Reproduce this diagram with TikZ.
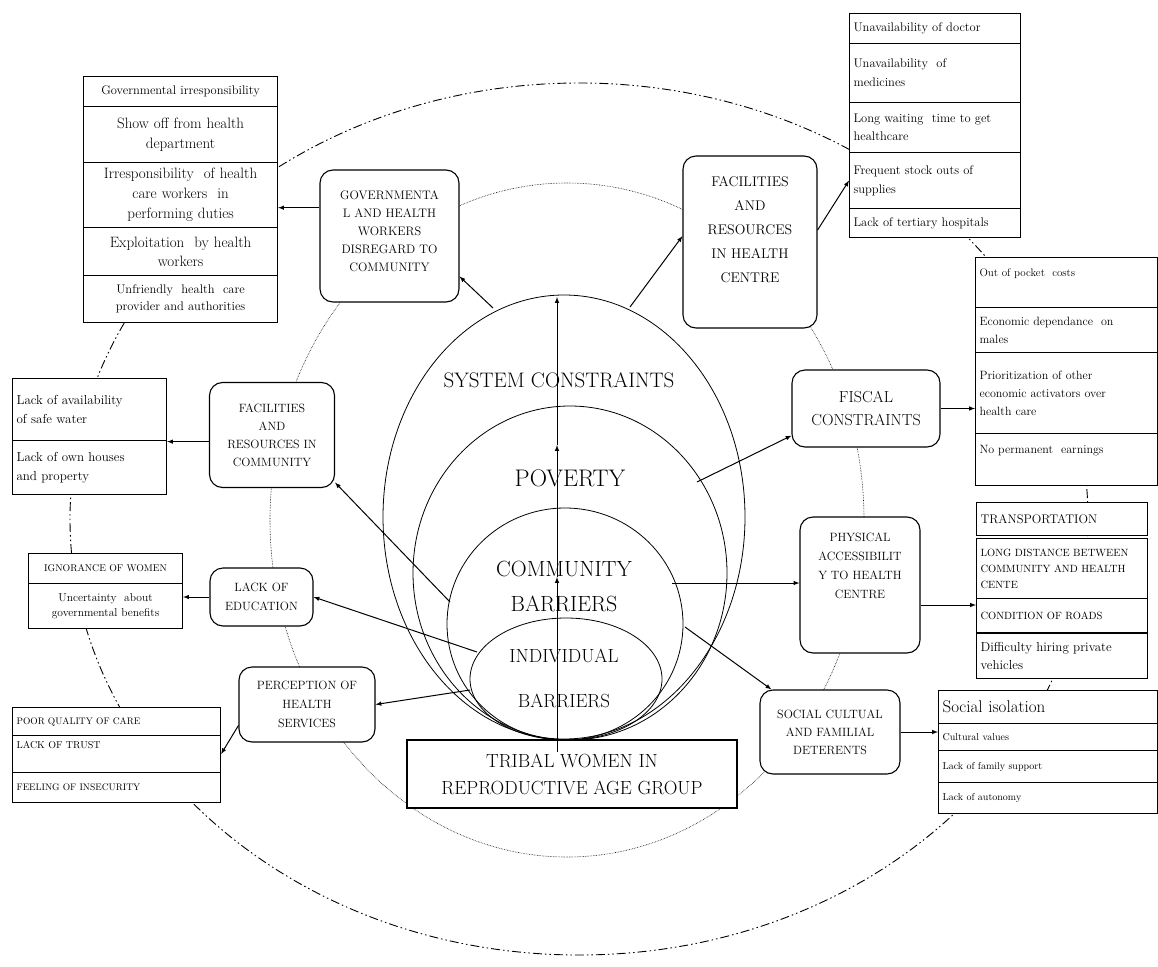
\documentclass[tikz,border=0pt]{standalone}
\usepackage{tikz}

\tikzset{
  outer/.style={line width=0.9pt, dash pattern=on 9pt off 3pt on 1.5pt off 3pt on 1.5pt off 3pt},
  inner/.style={line width=0.6pt, densely dotted},
  ring/.style={line width=0.8pt},
  rbox/.style={draw, line width=1.1pt, rounded corners=13pt, fill=white, align=center, inner sep=2pt},
  cell/.style={draw, line width=1.1pt, fill=white, anchor=north west, inner sep=4pt, text width=#1},
  link/.style={->, line width=1pt}
}

\begin{document}
\begin{tikzpicture}[x=1pt,y=-1pt,>=latex]
\useasboundingbox (0,0) rectangle (1158,966);

\draw[outer] (579,519) ellipse [x radius=509pt,y radius=436pt];
\draw[inner] (567,520) ellipse [x radius=297pt,y radius=337pt];
\draw[ring] (564,517) ellipse [x radius=181pt,y radius=222pt];
\draw[ring] (570,573) ellipse [x radius=157pt,y radius=167pt];
\draw[ring] (565,624) ellipse [x radius=118pt,y radius=116pt];
\draw[ring] (566,679) ellipse [x radius=96pt,y radius=61pt];

\node[font=\fontsize{21}{24}\selectfont] (sysl) at (559,380) {SYSTEM CONSTRAINTS};
\node[font=\fontsize{24}{27}\selectfont] (povl) at (570,478) {POVERTY};
\node[align=center,font=\fontsize{22}{35}\selectfont] (coml) at (564,586) {COMMUNITY\\BARRIERS};
\node[align=center,font=\fontsize{19}{45}\selectfont] (indl) at (564,678) {INDIVIDUAL\\BARRIERS};

\node[draw,line width=1.2pt,fill=white,minimum width=330pt,minimum height=68pt,align=center,
  font=\fontsize{19}{27}\selectfont] (tribal) at (572,774) {TRIBAL WOMEN IN\\REPRODUCTIVE AGE GROUP};

\node[rbox,minimum width=139pt,minimum height=132pt,font=\fontsize{12.3}{18}\selectfont] (gov) at (389.5,236)
  {GOVERNMENTA\\L AND HEALTH\\WORKERS\\DISREGARD TO\\COMMUNITY\\[-8pt]\mbox{}};
\node[rbox,minimum width=134pt,minimum height=172pt,font=\fontsize{14}{24}\selectfont] (fhc) at (750,242)
  {FACILITIES\\AND\\RESOURCES\\IN HEALTH\\CENTRE\\[1pt]\mbox{}};
\node[rbox,minimum width=148pt,minimum height=77pt,font=\fontsize{16}{23}\selectfont] (fisc) at (866,408.5)
  {FISCAL\\CONSTRAINTS};
\node[rbox,minimum width=120pt,minimum height=136pt,font=\fontsize{12}{19}\selectfont] (phys) at (860,585)
  {PHYSICAL\\ACCESSIBILIT\\Y TO HEALTH\\CENTRE\\[20pt]\mbox{}};
\node[rbox,minimum width=140pt,minimum height=84pt,font=\fontsize{12}{18}\selectfont] (soc) at (830,732)
  {SOCIAL CULTUAL\\AND FAMILIAL\\DETERENTS};
\node[rbox,minimum width=125pt,minimum height=105pt,font=\fontsize{12}{18}\selectfont] (fcom) at (272,435)
  {FACILITIES\\AND\\RESOURCES IN\\COMMUNITY};
\node[rbox,minimum width=103pt,minimum height=58pt,font=\fontsize{12}{19}\selectfont] (edu) at (261.5,597)
  {LACK OF\\EDUCATION};
\node[rbox,minimum width=136pt,minimum height=75pt,font=\fontsize{12}{19}\selectfont] (perc) at (307,704.5)
  {PERCEPTION OF\\HEALTH\\SERVICES};

\node[cell=186pt,align=center,minimum height=30pt,font=\fontsize{12.5}{14}\selectfont] (g1) at (83,76) {Governmental irresponsibility};
\node[cell=186pt,align=center,minimum height=56pt,font=\fontsize{15}{20}\selectfont] (g2) at (83,106) {Show off from health\\department};
\node[cell=186pt,align=center,minimum height=65pt,font=\fontsize{15}{20}\selectfont] (g3) at (83,162) {Irresponsibility\ \ of health\\care workers\ \ in\\performing duties};
\node[cell=186pt,align=center,minimum height=48pt,font=\fontsize{15}{19}\selectfont] (g4) at (83,227) {Exploitation\ \ by health\\workers};
\node[cell=186pt,align=center,minimum height=47pt,font=\fontsize{12.5}{17}\selectfont] (g5) at (83,275) {Unfriendly\ \ health\ \ care\\provider and authorities};

\node[cell=163pt,align=left,minimum height=30pt,font=\fontsize{12.5}{16}\selectfont] (t1) at (849,13) {Unavailability of doctor};
\node[cell=163pt,align=left,minimum height=59pt,font=\fontsize{12.5}{19}\selectfont] (t2) at (849,43) {Unavailability\ \ of\\medicines};
\node[cell=163pt,align=left,minimum height=50pt,font=\fontsize{12.5}{18}\selectfont] (t3) at (849,102) {Long waiting\ \ time to get\\healthcare};
\node[cell=163pt,align=left,minimum height=56pt,font=\fontsize{12.5}{19}\selectfont] (t4) at (849,152) {Frequent stock outs of\\supplies};
\node[cell=163pt,align=left,minimum height=29pt,font=\fontsize{12.5}{16}\selectfont] (t5) at (849,208) {Lack of tertiary hospitals};

\node[cell=174pt,align=left,minimum height=50pt,font=\fontsize{11}{16}\selectfont] (f1) at (975,257) {Out of pocket\ \ costs\\[4pt]\mbox{}};
\node[cell=174pt,align=left,minimum height=45pt,font=\fontsize{12}{18}\selectfont] (f2) at (975,307) {Economic dependance\ \ on\\males};
\node[cell=174pt,align=left,minimum height=81pt,font=\fontsize{12}{18}\selectfont] (f3) at (975,352) {Prioritization of other\\economic activators over\\health care};
\node[cell=174pt,align=left,minimum height=52pt,font=\fontsize{12}{16}\selectfont] (f4) at (975,433) {No permanent\ \ earnings\\[4pt]\mbox{}};

\node[cell=163pt,align=left,minimum height=33pt,font=\fontsize{12.5}{14}\selectfont] (d1) at (976,502) {TRANSPORTATION};
\node[cell=163pt,align=left,minimum height=60pt,font=\fontsize{10.5}{16}\selectfont] (d2) at (976,538) {LONG DISTANCE BETWEEN\\COMMUNITY AND HEALTH\\CENTE};
\node[cell=163pt,align=left,minimum height=34pt,font=\fontsize{10.5}{12}\selectfont] (d3) at (976,598) {CONDITION OF ROADS};
\node[cell=163pt,align=left,minimum height=45pt,font=\fontsize{13}{18}\selectfont] (d4) at (976,633) {Difficulty hiring private\\vehicles};

\node[cell=211pt,align=left,minimum height=33pt,font=\fontsize{17}{19}\selectfont] (s1) at (938,690) {Social isolation};
\node[cell=211pt,align=left,minimum height=27pt,font=\fontsize{10}{12}\selectfont] (s2) at (938,723) {Cultural values};
\node[cell=211pt,align=left,minimum height=32pt,font=\fontsize{10}{12}\selectfont] (s3) at (938,750) {Lack of family support};
\node[cell=211pt,align=left,minimum height=31pt,font=\fontsize{10}{12}\selectfont] (s4) at (938,782) {Lack of autonomy};

\node[cell=146pt,align=left,minimum height=62pt,font=\fontsize{13}{19}\selectfont] (w1) at (12,378) {Lack of availability\\of safe water};
\node[cell=146pt,align=left,minimum height=54pt,font=\fontsize{13}{19}\selectfont] (w2) at (12,440) {Lack of own houses\\and property};

\node[cell=146pt,align=center,minimum height=30pt,font=\fontsize{9.8}{12}\selectfont] (n1) at (28,553) {IGNORANCE OF WOMEN};
\node[cell=146pt,align=center,minimum height=45pt,font=\fontsize{11.5}{15}\selectfont] (n2) at (28,583) {Uncertainty\ \ about\\governmental benefits};

\node[cell=200pt,align=left,minimum height=28pt,font=\fontsize{9.5}{11}\selectfont] (q1) at (12,707) {POOR QUALITY OF CARE};
\node[cell=200pt,align=left,minimum height=37pt,font=\fontsize{10}{12}\selectfont] (q2) at (12,735) {LACK OF TRUST\\[6pt]\mbox{}};
\node[cell=200pt,align=left,minimum height=30pt,font=\fontsize{9.5}{11}\selectfont] (q3) at (12,772) {FEELING OF INSECURITY};

\coordinate (v0) at (557,752);
\coordinate (v1) at (557,577);
\coordinate (v2) at (557,445);
\coordinate (v3) at (557,297);
\coordinate (sA) at (493,308);
\coordinate (sB) at (630,307);
\coordinate (pA) at (697,482);
\coordinate (cA) at (672,583);
\coordinate (cB) at (685,627);
\coordinate (cC) at (450,602);
\coordinate (iA) at (477,652);
\coordinate (iB) at (470,690);
\coordinate (pa) at ([yshift=-20pt]phys.east);

\draw[link] (v0) -- (v1);
\draw[link] (v1) -- (v2);
\draw[link] (v2) -- (v3);
\draw[link] (sA) -- (gov.-30);
\draw[link] (sB) -- (fhc.175);
\draw[link] (gov.158) -- (gov.158 -| g3.east);
\draw[link] (fhc.10) -- (t4.west);
\draw[link] (pA) -- (fisc.200);
\draw[link] (fisc.east) -- (fisc.east -| f1.west);
\draw[link] (cA) -- (cA -| phys.west);
\draw[link] (pa) -- (pa -| d2.west);
\draw[link] (cB) -- (soc.144);
\draw[link] (soc.east) -- (soc.east -| s2.west);
\draw[link] (cC) -- (fcom.-37);
\draw[link] (fcom.186) -- (fcom.186 -| w1.east);
\draw[link] (iA) -- (edu.east);
\draw[link] (edu.west) -- (edu.west -| n2.east);
\draw[link] (iB) -- (perc.east);
\draw[link] (perc.197) -- (q2.east);
\end{tikzpicture}
\end{document}
